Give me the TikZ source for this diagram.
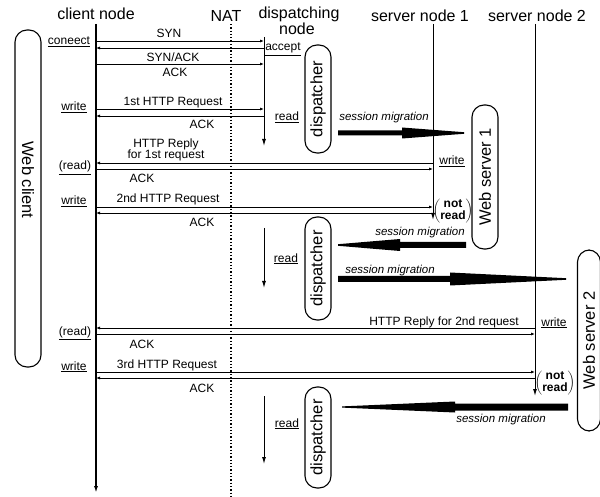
\documentclass[tikz,border=0pt]{standalone}
\usepackage{fontspec}
\setmainfont{Liberation Sans}
\usetikzlibrary{arrows.meta}
\tikzset{
  toplbl/.style={font=\fontsize{16}{14}\selectfont, inner sep=0pt, anchor=base, align=center},
  msglbl/.style={font=\fontsize{12}{9.5}\selectfont, inner sep=0pt, anchor=base, align=center},
  oplbl/.style={font=\fontsize{12}{14}\selectfont, inner sep=0pt, anchor=base},
  mig/.style={font=\itshape\fontsize{11.5}{13}\selectfont, inner sep=0pt, anchor=base},
  lifeline/.style={line width=1pt, -{Latex[length=7pt,width=4pt]}},
  msg/.style={line width=0.8pt, -{Latex[length=4pt,width=3pt]}},
  pill/.style={draw, line width=1.1pt, rounded corners=12pt, inner sep=0pt},
  pilltxt/.style={font=\fontsize{16.5}{18}\selectfont, inner sep=0pt},
  notread/.style={font=\bfseries\fontsize{12}{10}\selectfont, inner sep=0pt},
  bigarrow/.style={fill=black}
}
\begin{document}
\begin{tikzpicture}[x=1pt,y=-1pt]
\useasboundingbox (0,0) rectangle (600,497);

% lifeline coordinates
\coordinate (cl) at (96,24);   \coordinate (clb) at (96,493);
\coordinate (nat) at (231,24); \coordinate (natb) at (231,497);
\coordinate (dn) at (264,37);  \coordinate (dnb) at (264,146);
\coordinate (dn2) at (264,228); \coordinate (dn2b) at (264,288);
\coordinate (dn3) at (264,396); \coordinate (dn3b) at (264,464);
\coordinate (s1) at (433,24);  \coordinate (s1b) at (433,220);
\coordinate (s2) at (535,24);  \coordinate (s2b) at (535,396);

% headers
\node[toplbl] (hcl) at (96,20) {client node};
\node[toplbl] (hnat) at (226,22) {NAT};
\node[toplbl] (hdn) at (299,19) {dispatching};
\node[toplbl] (hdn2) at (297,35) {node};
\node[toplbl] (hs1) at (420,22) {server node 1};
\node[toplbl] (hs2) at (537,22) {server node 2};

% lifelines
\draw[lifeline, line width=1.5pt] (cl) -- (clb);
\draw[dotted, line width=1.3pt] (nat) -- (natb);
\draw[lifeline] (dn) -- (dnb);
\draw[lifeline] (dn2) -- (dn2b);
\draw[lifeline] (dn3) -- (dn3b);
\draw[lifeline] (s1) -- (s1b);
\draw[lifeline] (s2) -- (s2b);

% messages
\draw[msg] (cl |- 0,41) -- (dn |- 0,41);
\draw[msg] (dn |- 0,48) -- (cl |- 0,48);
\draw[msg] (cl |- 0,64) -- (dn |- 0,64);
\draw[msg] (cl |- 0,109) -- (dn |- 0,109);
\draw[msg] (dn |- 0,116) -- (cl |- 0,116);
\draw[msg] (s1 |- 0,163) -- (cl |- 0,163);
\draw[msg] (cl |- 0,169) -- (s1 |- 0,169);
\draw[msg] (cl |- 0,207) -- (s1 |- 0,207);
\draw[msg] (s1 |- 0,213) -- (cl |- 0,213);
\draw[msg] (s2 |- 0,328) -- (cl |- 0,328);
\draw[msg] (cl |- 0,334) -- (s2 |- 0,334);
\draw[msg] (cl |- 0,372) -- (s2 |- 0,372);
\draw[msg] (s2 |- 0,378) -- (cl |- 0,378);

% message labels
\node[msglbl] (m1) at (169,38) {SYN};
\node[msglbl] (m2) at (173,62) {SYN/ACK};
\node[msglbl] (m3) at (175,77) {ACK};
\node[msglbl] (m4) at (173,106) {1st HTTP Request};
\node[msglbl] (m5) at (202,129) {ACK};
\node[msglbl] (m6) at (166,148) {HTTP Reply};
\node[msglbl] (m6b) at (166,159) {for 1st request};
\node[msglbl] (m7) at (142,183) {ACK};
\node[msglbl] (m8) at (168,203) {2nd HTTP Request};
\node[msglbl] (m9) at (202,227) {ACK};
\node[msglbl] (m10) at (444,325) {HTTP Reply for 2nd request};
\node[msglbl] (m11) at (142,348) {ACK};
\node[msglbl] (m12) at (167,368) {3rd HTTP Request};
\node[msglbl] (m13) at (202,392) {ACK};

% operation labels
\node[oplbl] (o1) at (69,45) {\underline{coneect}};
\node[oplbl] (o2) at (283,51) {\underline{accept}};
\node[oplbl] (o3) at (74,111) {\underline{write}};
\node[oplbl] (o4) at (287,121) {\underline{read}};
\node[oplbl] (o5) at (75,170) {\underline{(read)}};
\node[oplbl] (o6) at (452,165) {\underline{write}};
\node[oplbl] (o7) at (74,205) {\underline{write}};
\node[oplbl] (o8) at (286,262) {\underline{read}};
\node[oplbl] (o9) at (554,326) {\underline{write}};
\node[oplbl] (o10) at (75,335) {\underline{(read)}};
\node[oplbl] (o11) at (74,370) {\underline{write}};
\node[oplbl] (o12) at (287,427) {\underline{read}};

% not read
\node[notread] (nr1) at (453,211) {$\left(\vcenter{\hbox{\begin{tabular}{@{}c@{}}not\\read\end{tabular}}}\right)$};
\node[notread] (nr2) at (555,383) {$\left(\vcenter{\hbox{\begin{tabular}{@{}c@{}}not\\read\end{tabular}}}\right)$};

% pills
\node[pill, minimum width=26pt, minimum height=337pt] (wc) at (28,198.5) {};
\node[pilltxt, rotate=-90] (wct) at (28,180) {Web client};
\node[pill, minimum width=26pt, minimum height=108pt] (d1) at (318,99) {};
\node[pilltxt, rotate=90] at (d1) {dispatcher};
\node[pill, minimum width=26pt, minimum height=103pt] (d2) at (318,268.5) {};
\node[pilltxt, rotate=90] at (d2) {dispatcher};
\node[pill, minimum width=26pt, minimum height=101pt] (d3) at (318,437.5) {};
\node[pilltxt, rotate=90] at (d3) {dispatcher};
\node[pill, minimum width=26pt, minimum height=144pt] (ws1) at (485,177) {};
\node[pilltxt, rotate=90] at (ws1) {Web server 1};
\node[pill, minimum width=23pt, minimum height=181pt] (ws2) at (589,340.5) {};
\node[pilltxt, rotate=90] at (ws2) {Web server 2};

% session migration arrows
\fill[bigarrow] (338,130.5) -- (402,130.5) -- (402,127.5) -- (464,132.2) -- (464,133.8) -- (402,138.5) -- (402,135.5) -- (338,135.5) -- cycle;
\node[mig] (sm1) at (384,121) {session migration};

\fill[bigarrow] (466,242) -- (400,242) -- (400,239) -- (338,244.2) -- (338,245.8) -- (400,251) -- (400,248) -- (466,248) -- cycle;
\node[mig] (sm2) at (420,236) {session migration};

\fill[bigarrow] (338,276) -- (450,276) -- (450,272.5) -- (566,278.2) -- (566,279.8) -- (450,285.5) -- (450,282) -- (338,282) -- cycle;
\node[mig] (sm3) at (390,273) {session migration};

\fill[bigarrow] (568,403.5) -- (455,403.5) -- (455,401.5) -- (342,406.4) -- (342,407.6) -- (455,412.5) -- (455,410.5) -- (568,410.5) -- cycle;
\node[mig] (sm4) at (501,422) {session migration};
\end{tikzpicture}
\end{document}
